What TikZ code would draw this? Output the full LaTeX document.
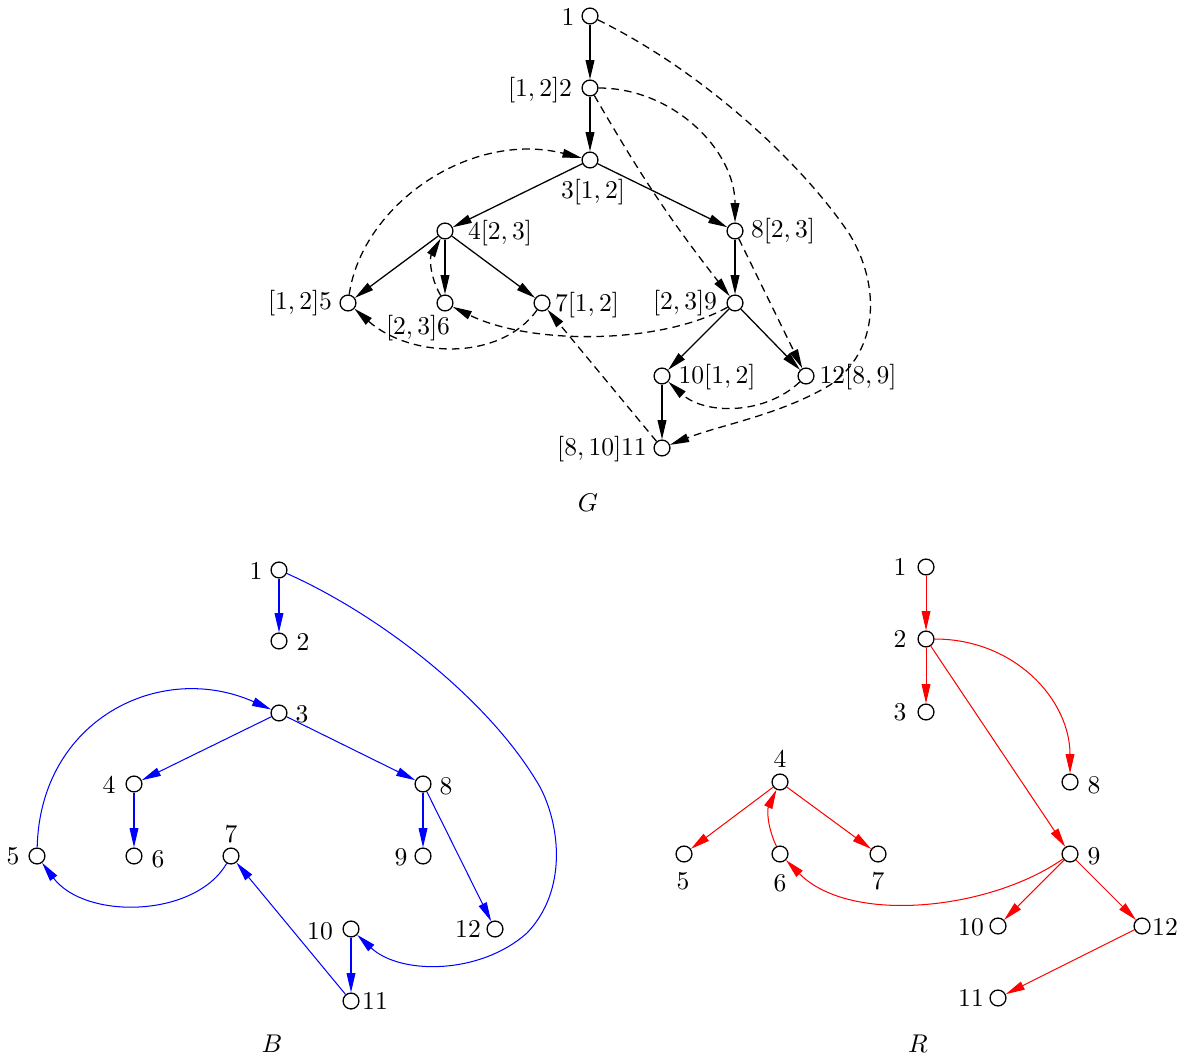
\documentclass[tikz,border=0pt]{standalone}
\usetikzlibrary{arrows.meta}
\begin{document}
\begin{tikzpicture}[x=0.390625pt,y=-0.390625pt,
  vtx/.style={circle,draw,line width=0.5pt,minimum size=6.2pt,inner sep=0pt},
  lbl/.style={inner sep=0pt},
  tip/.style={-{Triangle[length=7.5pt,width=3.4pt]}},
  gedge/.style={tip,line width=0.5pt},
  gdash/.style={tip,line width=0.5pt,dash pattern=on 3pt off 2pt},
  bedge/.style={tip,blue,line width=0.4pt},
  redge/.style={tip,red,line width=0.4pt}]
\useasboundingbox (0,0) rectangle (1193,1063);

% ---------------- G ----------------
\node[vtx] (g1) at (590,16) {};
\node[vtx] (g2) at (590,88) {};
\node[vtx] (g3) at (590,160) {};
\node[vtx] (g4) at (445,231) {};
\node[vtx] (g8) at (735,231) {};
\node[vtx] (g5) at (348,303) {};
\node[vtx] (g6) at (445,303) {};
\node[vtx] (g7) at (542,303) {};
\node[vtx] (g9) at (735,303) {};
\node[vtx] (g10) at (662,376) {};
\node[vtx] (g12) at (806,376) {};
\node[vtx] (g11) at (662,448) {};

\node[lbl] (lg1) at (568,17) {$1$};
\node[lbl] (lg2) at (540,90) {$[1,2]2$};
\node[lbl] (lg3) at (593,192) {$3[1,2]$};
\node[lbl] (lg4) at (500,233) {$4[2,3]$};
\node[lbl] (lg8) at (783,231) {$8[2,3]$};
\node[lbl] (lg5) at (300,303) {$[1,2]5$};
\node[lbl] (lg6) at (418,328) {$[2,3]6$};
\node[lbl] (lg7) at (587,305) {$7[1,2]$};
\node[lbl] (lg9) at (685,303) {$[2,3]9$};
\node[lbl] (lg10) at (717,377) {$10[1,2]$};
\node[lbl] (lg12) at (858,377) {$12[8,9]$};
\node[lbl] (lg11) at (602,449) {$[8,10]11$};
\node[lbl] (lG) at (588,503) {$G$};

\draw[gedge] (g1) -- (g2);
\draw[gedge] (g2) -- (g3);
\draw[gedge] (g3) -- (g4);
\draw[gedge] (g3) -- (g8);
\draw[gedge] (g4) -- (g5);
\draw[gedge] (g4) -- (g6);
\draw[gedge] (g4) -- (g7);
\draw[gedge] (g8) -- (g9);
\draw[gedge] (g9) -- (g10);
\draw[gedge] (g9) -- (g12);
\draw[gedge] (g10) -- (g11);

\draw[gdash] (g1) .. controls (700,70) and (800,160) .. (850,235)
  .. controls (880,285) and (880,350) .. (830,385)
  .. controls (780,415) and (720,425) .. (g11);
\draw[gdash] (g2) .. controls (673,88) and (735,150) .. (g8);
\draw[gdash] (g2) to[bend right=4] (g9);
\draw[gdash] (g8) -- (g12);
\draw[gdash] (g5) .. controls (362,205) and (470,130) .. (g3);
\draw[gdash] (g6) to[bend left=30] (g4);
\draw[gdash] (g7) .. controls (500,362) and (410,358) .. (g5);
\draw[gdash] (g9) .. controls (660,345) and (530,345) .. (g6);
\draw[gdash] (g11) -- (g7);
\draw[gdash] (g12) .. controls (765,415) and (705,415) .. (g10);

% ---------------- B ----------------
\node[vtx] (b1) at (279,570) {};
\node[vtx] (b2) at (279,641) {};
\node[vtx] (b3) at (279,713) {};
\node[vtx] (b4) at (134,784) {};
\node[vtx] (b8) at (423,784) {};
\node[vtx] (b5) at (37,856) {};
\node[vtx] (b6) at (134,856) {};
\node[vtx] (b7) at (231,856) {};
\node[vtx] (b9) at (423,856) {};
\node[vtx] (b10) at (351,929) {};
\node[vtx] (b12) at (495,929) {};
\node[vtx] (b11) at (351,1001) {};

\node[lbl] (lb1) at (256,571) {$1$};
\node[lbl] (lb2) at (303,642) {$2$};
\node[lbl] (lb3) at (302,714) {$3$};
\node[lbl] (lb4) at (109,785) {$4$};
\node[lbl] (lb8) at (446,786) {$8$};
\node[lbl] (lb5) at (13,856) {$5$};
\node[lbl] (lb6) at (158,859) {$6$};
\node[lbl] (lb7) at (231,834) {$7$};
\node[lbl] (lb9) at (401,857) {$9$};
\node[lbl] (lb10) at (320,931) {$10$};
\node[lbl] (lb12) at (468,929) {$12$};
\node[lbl] (lb11) at (375,1001) {$11$};
\node[lbl] (lB) at (272,1044) {$B$};

\draw[bedge] (b1) -- (b2);
\draw[bedge] (b3) -- (b4);
\draw[bedge] (b3) -- (b8);
\draw[bedge] (b4) -- (b6);
\draw[bedge] (b8) -- (b9);
\draw[bedge] (b8) -- (b12);
\draw[bedge] (b10) -- (b11);
\draw[bedge] (b11) -- (b7);
\draw[bedge] (b5) .. controls (40,720) and (160,660) .. (b3);
\draw[bedge] (b7) .. controls (195,918) and (85,920) .. (b5);
\draw[bedge] (b1) .. controls (380,615) and (490,700) .. (540,787)
  .. controls (560,825) and (568,890) .. (527,933)
  .. controls (480,975) and (400,975) .. (b10);

% ---------------- R ----------------
\node[vtx] (r1) at (926,567) {};
\node[vtx] (r2) at (926,639) {};
\node[vtx] (r3) at (926,712) {};
\node[vtx] (r4) at (780,782) {};
\node[vtx] (r8) at (1070,782) {};
\node[vtx] (r5) at (684,854) {};
\node[vtx] (r6) at (780,854) {};
\node[vtx] (r7) at (878,854) {};
\node[vtx] (r9) at (1070,854) {};
\node[vtx] (r10) at (998,926) {};
\node[vtx] (r12) at (1142,926) {};
\node[vtx] (r11) at (998,998) {};

\node[lbl] (lr1) at (900,567) {$1$};
\node[lbl] (lr2) at (900,639) {$2$};
\node[lbl] (lr3) at (900,712) {$3$};
\node[lbl] (lr4) at (780,759) {$4$};
\node[lbl] (lr8) at (1094,785) {$8$};
\node[lbl] (lr5) at (683,881) {$5$};
\node[lbl] (lr6) at (780,883) {$6$};
\node[lbl] (lr7) at (878,881) {$7$};
\node[lbl] (lr9) at (1094,856) {$9$};
\node[lbl] (lr10) at (971,927) {$10$};
\node[lbl] (lr12) at (1165,927) {$12$};
\node[lbl] (lr11) at (971,998) {$11$};
\node[lbl] (lR) at (918,1044) {$R$};

\draw[redge] (r1) -- (r2);
\draw[redge] (r2) -- (r3);
\draw[redge] (r2) -- (r9);
\draw[redge] (r2) .. controls (1015,639) and (1070,700) .. (r8);
\draw[redge] (r4) -- (r5);
\draw[redge] (r4) -- (r7);
\draw[redge] (r6) to[bend left=25] (r4);
\draw[redge] (r9) .. controls (990,910) and (850,925) .. (r6);
\draw[redge] (r9) -- (r10);
\draw[redge] (r9) -- (r12);
\draw[redge] (r12) -- (r11);
\end{tikzpicture}
\end{document}
